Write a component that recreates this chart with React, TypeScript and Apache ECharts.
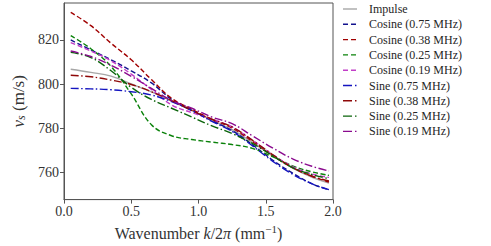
import React, { useEffect, useRef } from "react";
import * as echarts from "echarts";

const kGrid = [0.05, 0.2, 0.35, 0.5, 0.65, 0.8, 0.95, 1.1, 1.25, 1.4, 1.55, 1.7, 1.85, 1.97];
const impulse = [806.7, 805.3, 803.6, 800, 796.4, 792.2, 788, 783.5, 779.3, 773.5, 767.5, 761.8, 757.5, 755];
const cos075 = [820, 815.5, 811, 806, 800.5, 793, 788, 783.3, 778.8, 772.5, 765.5, 759.5, 754.5, 752];
const cos038 = [832.5, 826.5, 818.5, 811, 802, 793.5, 788.5, 784, 780, 774, 767.5, 762, 758, 755.5];
const cos025 = [822, 816, 808, 795.5, 781.5, 776.5, 774.8, 773.6, 772.5, 770.8, 767, 762.8, 760, 758.5];
const cos019 = [818.8, 815, 810.5, 804.5, 797.5, 790.5, 787, 784, 780.5, 774.5, 768, 762.5, 759, 757.6];
const sin075 = [798, 797.8, 797.4, 796.5, 795, 792, 788, 783, 778.5, 772, 765, 759, 754.5, 752];
const sin038 = [804, 803.3, 801.8, 799.8, 796.5, 792.5, 788, 784, 780.5, 774.5, 768, 762, 758, 756];
const sin025 = [814.4, 812, 806, 798.5, 793, 789, 785, 781, 777.5, 773, 767.5, 762, 758.8, 757];
const sin019 = [815, 812.5, 808.5, 803.5, 798, 792.5, 789, 785, 782, 776.5, 771, 766, 762.5, 760.5];

const seriesNames = [
  "Impulse",
  "Cosine (0.75 MHz)",
  "Cosine (0.38 MHz)",
  "Cosine (0.25 MHz)",
  "Cosine (0.19 MHz)",
  "Sine (0.75 MHz)",
  "Sine (0.38 MHz)",
  "Sine (0.25 MHz)",
  "Sine (0.19 MHz)",
];
const seriesValues = [impulse, cos075, cos038, cos025, cos019, sin075, sin038, sin025, sin019];
const seriesColors = ["#a6a6a6", "#12128e", "#a00000", "#0a820a", "#c23ec8", "#1515c0", "#8e0808", "#0a640a", "#8a0a8e"];
const seriesKinds = ["solid", "dash", "dash", "dash", "dash", "dashdot", "dashdot", "dashdot", "dashdot"];

const yTicks = [760, 780, 800, 820];

const FONT = "Liberation Serif";

export default function App() {
  const ref = useRef<HTMLDivElement>(null);
  useEffect(() => {
    if (!ref.current) return;
    const chart = echarts.init(ref.current, null, { renderer: "svg" });
    const dashFor = (k: string): any =>
      k === "solid" ? "solid" : k === "dash" ? [5, 2.5] : [8, 2.5, 1.5, 2.5];
    const legendDash = (k: string): any =>
      k === "solid" ? null : k === "dash" ? [5, 3] : [9, 3, 1.5, 3];
    const series = seriesNames.map((name, i) => ({
      name,
      type: "line",
      smooth: 0.4,
      showSymbol: false,
      symbol: "none",
      data: kGrid.map((k, j) => [k, seriesValues[i][j]]),
      lineStyle: { color: seriesColors[i], width: 1.4, type: dashFor(seriesKinds[i]) },
      itemStyle: { color: seriesColors[i] },
      z: 2 + i,
    }));
    const legendEls: any[] = [];
    seriesNames.forEach((name, i) => {
      const y = 9 + 15.3 * i;
      legendEls.push({
        type: "line",
        shape: { x1: 343, y1: y, x2: 357, y2: y },
        style: { stroke: seriesColors[i], lineWidth: 1.4, lineDash: legendDash(seriesKinds[i]) },
      });
      legendEls.push({
        type: "text",
        x: 369,
        y,
        style: {
          text: name,
          fontFamily: FONT,
          fontSize: 12,
          fill: "#262626",
          verticalAlign: "middle",
          align: "left",
        },
      });
    });
    chart.setOption({
      animation: false,
      backgroundColor: "#ffffff",
      textStyle: { fontFamily: FONT },
      grid: {
        left: 64,
        right: 158,
        top: 3,
        bottom: 45,
        show: true,
        borderColor: "#555555",
        borderWidth: 1,
        containLabel: false,
      },
      graphic: legendEls,
      xAxis: {
        type: "value",
        min: 0,
        max: 2,
        interval: 0.5,
        name: "Wavenumber {i|k}/2{i|π} (mm{s|−1})",
        nameLocation: "middle",
        nameGap: 22,
        nameTextStyle: {
          fontFamily: FONT,
          fontSize: 16,
          color: "#333",
          rich: {
            i: { fontStyle: "italic", fontFamily: FONT, fontSize: 16, color: "#333" },
            s: { fontFamily: FONT, fontSize: 11, color: "#333", verticalAlign: "top", padding: [0, 0, 8, 0] },
          },
        },
        axisLine: { show: true, lineStyle: { color: "#555", width: 1 } },
        axisTick: { show: true, inside: false, length: 4, lineStyle: { color: "#555" } },
        axisLabel: {
          fontFamily: FONT,
          fontSize: 14,
          color: "#333",
          margin: 5,
          formatter: (v: number) => v.toFixed(1),
        },
        splitLine: { show: false },
      },
      yAxis: {
        type: "value",
        min: 747.5,
        max: 836.8,
        name: "{i|v}{s|s} (m/s)",
        nameLocation: "middle",
        nameGap: 33,
        nameRotate: 90,
        nameTextStyle: {
          fontFamily: FONT,
          fontSize: 17,
          color: "#333",
          rich: {
            i: { fontStyle: "italic", fontFamily: FONT, fontSize: 17, color: "#333" },
            s: { fontStyle: "italic", fontFamily: FONT, fontSize: 12, color: "#333", verticalAlign: "bottom", padding: [6, 0, 0, 0] },
          },
        },
        axisLine: { show: true, lineStyle: { color: "#555", width: 1 } },
        axisTick: { show: true, inside: false, length: 4, lineStyle: { color: "#555" }, customValues: yTicks },
        axisLabel: {
          fontFamily: FONT,
          fontSize: 14,
          color: "#333",
          margin: 5,
          customValues: yTicks,
        },
        splitLine: { show: false },
      },
      series,
    });
    return () => chart.dispose();
  }, []);
  return <div ref={ref} style={{ width: 491, height: 246, position: "absolute", left: 0, top: 0 }} />;
}
